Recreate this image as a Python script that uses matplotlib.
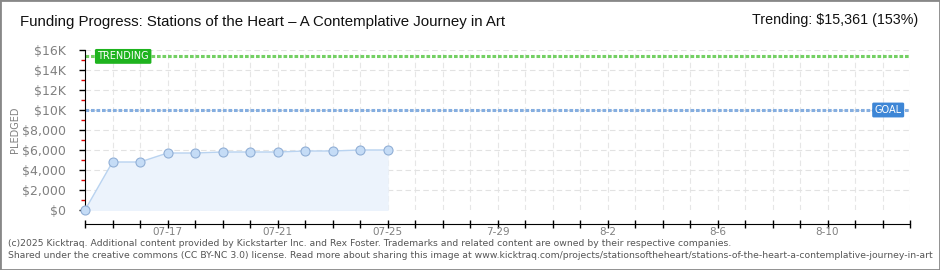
import matplotlib
matplotlib.use("Agg")
import matplotlib.pyplot as plt
import matplotlib.dates as mdates
from matplotlib.ticker import FixedLocator
import datetime as dt

# ---- data ----
dates = ["2025-07-14", "2025-07-15", "2025-07-16", "2025-07-17", "2025-07-18",
         "2025-07-19", "2025-07-20", "2025-07-21", "2025-07-22", "2025-07-23",
         "2025-07-24", "2025-07-25"]
pledged = [0, 4800, 4800, 5700, 5700, 5800, 5800, 5800, 5900, 5900, 6000, 6000]
goal = 10000
trending = 15361
start_date = "2025-07-14"
end_date = "2025-08-13"
label_dates = ["2025-07-17", "2025-07-21", "2025-07-25", "2025-07-29",
               "2025-08-02", "2025-08-06", "2025-08-10"]
label_texts = ["07-17", "07-21", "07-25", "7-29", "8-2", "8-6", "8-10"]
y_ticks = [0, 2000, 4000, 6000, 8000, 10000, 12000, 14000, 16000]
y_labels = ["$0", "$2,000", "$4,000", "$6,000", "$8,000", "$10K", "$12K", "$14K", "$16K"]
y_minor = [1000, 3000, 5000, 7000, 9000, 11000, 13000, 15000]

def d(s):
    return mdates.date2num(dt.datetime.strptime(s, "%Y-%m-%d"))

xs = [d(s) for s in dates]
x0, x1 = d(start_date), d(end_date)

fig = plt.figure(figsize=(9.4, 2.7), dpi=100)
W, H = 940, 270
ax = fig.add_axes([85 / W, (H - 210) / H, (910 - 85) / W, 160 / H])

ax.set_xlim(x0, x1)
ax.set_ylim(0, 16000)

# grid
day_ticks = [x0 + i for i in range(int(round(x1 - x0)) + 1)]
for x in day_ticks[1:]:
    ax.axvline(x, color="#e6e6e6", lw=0.8, ls=(0, (5, 3)), zorder=0)
for y in y_ticks[1:]:
    ax.axhline(y, color="#e2e2e2", lw=0.8, ls=(0, (5, 3)), zorder=0)

# goal & trending lines
ax.axhline(goal, color="#85aee0", lw=2.2, ls=(0, (1.2, 0.6)), zorder=2)
ax.axhline(trending, color="#74d064", lw=2.2, ls=(0, (1.2, 0.6)), zorder=2)

# data
ax.fill_between(xs, pledged, 0, color="#ecf3fc", zorder=1)
ax.plot(xs, pledged, color="#b9d3f0", lw=1, zorder=3, clip_on=False)
ax.plot(xs, pledged, ls="none", marker="o", ms=6.5, mfc="#c5dcf6",
        mec="#91afd6", mew=0.8, zorder=4, clip_on=False)

# labels on lines
ax.text(x0 + 0.45, trending, "TRENDING", fontsize=7, color="white",
        va="center", ha="left", family="DejaVu Sans",
        bbox=dict(boxstyle="round,pad=0.25,rounding_size=0.15", fc="#1eb31e", ec="none"),
        zorder=5)
ax.text(x1 - 0.3, goal, "GOAL", fontsize=7, color="white",
        va="center", ha="right", family="DejaVu Sans",
        bbox=dict(boxstyle="round,pad=0.25,rounding_size=0.15", fc="#3d86d6", ec="none"),
        zorder=5)

# spines
for s in ["top", "right"]:
    ax.spines[s].set_visible(False)
ax.spines["left"].set_color("black")
ax.spines["bottom"].set_color("black")
ax.spines["bottom"].set_position(("outward", 10))

ax.yaxis.set_major_locator(FixedLocator(y_ticks))
ax.set_yticklabels(y_labels)
ax.yaxis.set_minor_locator(FixedLocator(y_minor))
ax.tick_params(axis="y", which="major", direction="out", length=4, width=1,
               color="black", labelsize=9, labelcolor="#808080", pad=10)
ax.tick_params(axis="y", which="minor", direction="out", length=3, width=1,
               color="#e00000")

ax.xaxis.set_minor_locator(FixedLocator(day_ticks))
ax.xaxis.set_major_locator(FixedLocator([d(s) for s in label_dates]))
ax.set_xticklabels(label_texts)
ax.tick_params(axis="x", which="both", direction="inout", length=6, width=1,
               color="black", labelsize=7.5, labelcolor="#808080", pad=-1)

ax.set_ylabel("PLEDGED", fontsize=7, color="#808080")
ax.yaxis.set_label_coords(-65 / 825, 0.5)

# title etc.
fig.text(20 / W, 1 - 22 / H, "Funding Progress: Stations of the Heart \u2013 A Contemplative Journey in Art",
         fontsize=10.8, family="Liberation Sans", va="center", ha="left", color="#111111")
fig.text(918 / W, 1 - 20 / H, "Trending: $15,361 (153%)",
         fontsize=10.3, family="Liberation Sans", va="center", ha="right", color="#111111")

fig.text(8 / W, 1 - 243 / H,
         "(c)2025 Kicktraq. Additional content provided by Kickstarter Inc. and Rex Foster. Trademarks and related content are owned by their respective companies.",
         fontsize=6.7, color="#555555", va="center", ha="left")
fig.text(8 / W, 1 - 256 / H,
         "Shared under the creative commons (CC BY-NC 3.0) license. Read more about sharing this image at www.kicktraq.com/projects/stationsoftheheart/stations-of-the-heart-a-contemplative-journey-in-art",
         fontsize=6.7, color="#555555", va="center", ha="left")

# border
fig.patches.append(plt.Rectangle((0, 0), 1, 1, transform=fig.transFigure,
                                 fill=False, ec="#888888", lw=2))

fig.savefig("out.png", dpi=100)
